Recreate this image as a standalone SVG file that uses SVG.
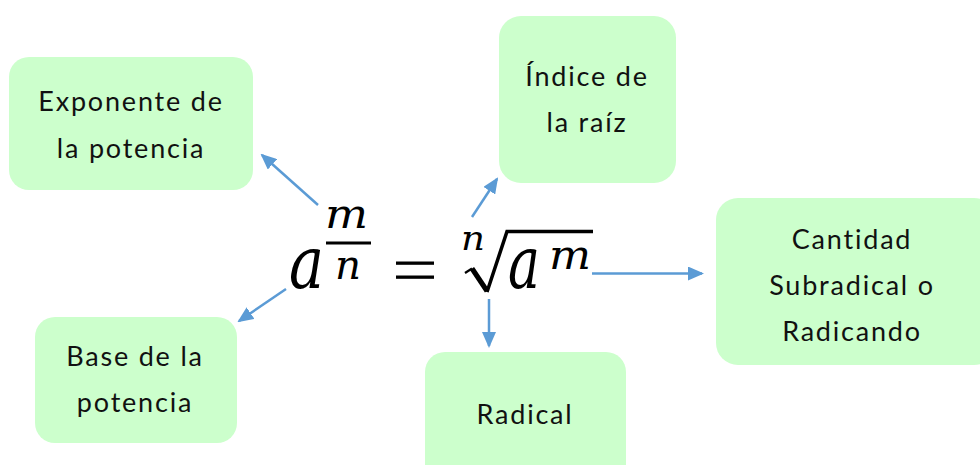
<svg xmlns="http://www.w3.org/2000/svg" width="980" height="465" viewBox="0 0 980 465">
<style>
.box{fill:#CCFFCC}
.lbl{font-family:Lato,"Open Sans",sans-serif;font-size:27px;fill:#111;text-anchor:middle;letter-spacing:1.8px}
.conn{stroke:#5B9BD5;stroke-width:2.5;fill:none}
.math{font-family:"DejaVu Serif",serif;font-style:italic;fill:#000}
</style>
<defs>
<marker id="ah" markerUnits="userSpaceOnUse" markerWidth="16" markerHeight="14" refX="14" refY="7" orient="auto">
<path d="M0,0 L16,7 L0,14 Z" fill="#5B9BD5"/>
</marker>
</defs>
<rect width="980" height="465" fill="#fff"/>
<g id="exponente">
<rect class="box" x="9" y="57" width="244" height="133" rx="20"/>
<text class="lbl" x="131" y="111">Exponente de</text>
<text class="lbl" x="131" y="158">la potencia</text>
</g>
<g id="indice">
<rect class="box" x="499" y="16" width="177" height="167" rx="22"/>
<text class="lbl" x="587" y="86">Índice de</text>
<text class="lbl" x="587" y="132">la raíz</text>
</g>
<g id="cantidad">
<rect class="box" x="716" y="198" width="280" height="167" rx="22"/>
<text class="lbl" x="852" y="249">Cantidad</text>
<text class="lbl" x="852" y="295">Subradical o</text>
<text class="lbl" x="852" y="341">Radicando</text>
</g>
<g id="radical">
<rect class="box" x="425" y="352" width="201" height="140" rx="20"/>
<text class="lbl" x="525" y="424">Radical</text>
</g>
<g id="base">
<rect class="box" x="35" y="317" width="202" height="126" rx="20"/>
<text class="lbl" x="135" y="366">Base de la</text>
<text class="lbl" x="135" y="412">potencia</text>
</g>
<g id="formula">
<text class="math" x="289" y="288" font-size="72" textLength="35" lengthAdjust="spacingAndGlyphs">a</text>
<text class="math" x="325" y="228" font-size="41" textLength="43" lengthAdjust="spacingAndGlyphs">m</text>
<rect x="326" y="241.5" width="45" height="3" fill="#000"/>
<text class="math" x="335" y="279" font-size="41" textLength="26" lengthAdjust="spacingAndGlyphs">n</text>
<rect x="396" y="261.5" width="38" height="3.3" fill="#000"/>
<rect x="396" y="275.5" width="38" height="3.3" fill="#000"/>
<text class="math" x="461" y="250" font-size="33" textLength="24" lengthAdjust="spacingAndGlyphs">n</text>
<polyline points="465,273 472,268.5" fill="none" stroke="#000" stroke-width="2.2"/>
<line x1="472" y1="268.5" x2="487" y2="291" stroke="#000" stroke-width="5"/>
<polyline points="487,292 507,231.5 593,231.5" fill="none" stroke="#000" stroke-width="3.5" stroke-linejoin="miter"/>
<text class="math" x="508" y="288" font-size="72" textLength="32" lengthAdjust="spacingAndGlyphs">a</text>
<text class="math" x="549" y="269" font-size="41" textLength="42" lengthAdjust="spacingAndGlyphs">m</text>
</g>
<g id="connectors">
<line class="conn" x1="318" y1="205" x2="262" y2="155" marker-end="url(#ah)"/>
<line class="conn" x1="286" y1="289" x2="239" y2="321" marker-end="url(#ah)"/>
<line class="conn" x1="472" y1="217" x2="497" y2="179" marker-end="url(#ah)"/>
<line class="conn" x1="489" y1="299" x2="489" y2="346" marker-end="url(#ah)"/>
<line class="conn" x1="592" y1="273.5" x2="702" y2="273.5" marker-end="url(#ah)"/>
</g>
</svg>
